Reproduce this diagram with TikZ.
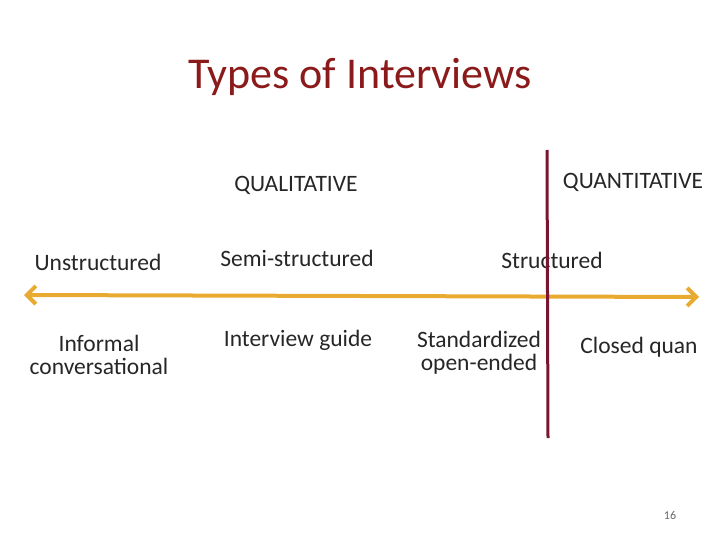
\documentclass[tikz,border=0pt]{standalone}
\usepackage{fontspec}
\setmainfont{Carlito}
\usetikzlibrary{arrows.meta}
\definecolor{titlered}{HTML}{8B1A1A}
\definecolor{axisorange}{HTML}{E8AA30}
\definecolor{linered}{HTML}{7A1530}
\begin{document}
\begin{tikzpicture}[x=1pt,y=-1pt,
  lbl/.style={font=\fontsize{23.5}{27}\selectfont,align=center,text=black!85}]
\useasboundingbox (0,0) rectangle (720,540);
\node[font=\fontsize{44}{50}\selectfont,text=titlered] (title) at (360,77) {Types of Interviews};
\node[lbl] (qual) at (296,185) {QUALITATIVE};
\node[lbl] (quant) at (633,182) {QUANTITATIVE};
\node[lbl] (uns) at (98,262) {Unstructured};
\node[lbl] (semi) at (297,258) {Semi-structured};
\node[lbl] (str) at (552,260) {Structured};
\node[lbl] (inf) at (99,355) {Informal\\[-4pt]conversational};
\node[lbl] (guide) at (298,340) {Interview guide};
\node[lbl] (std) at (479,353) {Standardized\\[-4pt]open-ended};
\node[lbl] (closed) at (639,347) {Closed quan};
\node[font=\fontsize{12}{14}\selectfont,text=black!60] (pg) at (670,515) {16};
\coordinate (al) at (24,295);
\coordinate (ar) at (699,297);
\draw[axisorange,line width=4pt,{Straight Barb[length=9pt,width=18pt]}-{Straight Barb[length=9pt,width=18pt]}] (al) -- (ar);
\coordinate (vt) at (547,150);
\coordinate (vb) at (548,438);
\draw[linered,line width=3pt] (vt) -- (vb);
\end{tikzpicture}
\end{document}
